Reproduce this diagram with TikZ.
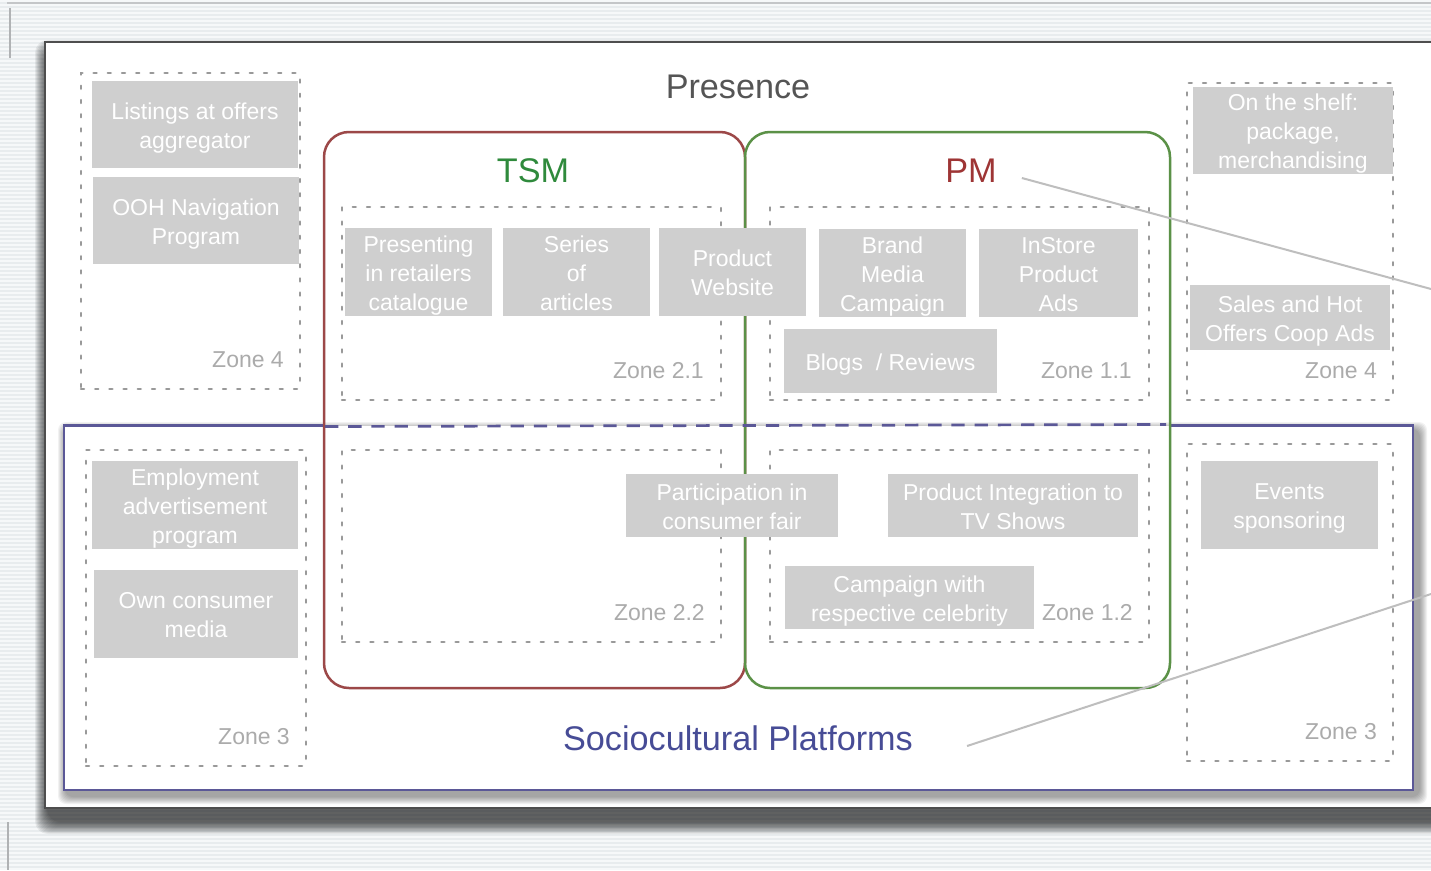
\documentclass[tikz,border=0pt]{standalone}
\usepackage{fontspec}
\setmainfont{Liberation Sans}
\definecolor{bgbase}{HTML}{E8ECEE}
\definecolor{bgstripe}{HTML}{F6F8F9}
\definecolor{edgegrey}{HTML}{C4C6C8}
\definecolor{framegrey}{HTML}{4E4E4E}
\definecolor{boxgrey}{HTML}{CFCFCF}
\definecolor{zonegrey}{HTML}{999999}
\definecolor{zonetxt}{HTML}{ABABAB}
\definecolor{tsmred}{HTML}{9C4848}
\definecolor{pmgreen}{HTML}{5B9147}
\definecolor{plum}{HTML}{5B5897}
\definecolor{titlegrey}{HTML}{555555}
\definecolor{tsmtxt}{HTML}{2F8A3C}
\definecolor{pmtxt}{HTML}{9E3535}
\definecolor{sctxt}{HTML}{474C96}
\definecolor{conngrey}{HTML}{BEBEBE}
\newcommand\gbox[6]{%
  \node[box, minimum width=#4pt, minimum height=#5pt] (#1) at (#2,#3) {};
  \node[boxtxt] (#1t) at ([yshift=-3.4pt]#1.center) {\strut#6\strut};}
\begin{document}
\begin{tikzpicture}[x=1pt,y=-1pt,
  box/.style={fill=boxgrey, inner sep=0pt, outer sep=0pt},
  boxtxt/.style={text=white, align=center, inner sep=0pt, outer sep=0pt,
    font=\fontsize{23}{29}\selectfont},
  zonebox/.style={draw=zonegrey, line width=2.5pt, line cap=round, dash pattern=on 3pt off 11.2pt,
    inner sep=0pt, outer sep=0pt},
  zonelbl/.style={text=zonetxt, anchor=east, inner sep=0pt, font=\fontsize{23}{27}\selectfont},
  title/.style={inner sep=0pt, font=\fontsize{34.2}{40}\selectfont},
  bigbox/.style={line width=2.5pt, rounded corners=25pt, inner sep=0pt, outer sep=0pt,
    minimum width=#1, minimum height=556pt},
  conn/.style={draw=conngrey, line width=2pt}]
\useasboundingbox (0,0) rectangle (1431,870);
% background
\fill[bgbase] (0,0) rectangle (1431,870);
\foreach \yy in {0,4,...,868} \fill[bgstripe] (0,\yy) rectangle (1431,\yy+2);
\draw[edgegrey, line width=1.5pt] (7,3) -- (1431,3);
\draw[edgegrey!90!black, line width=2pt] (10,8) -- (10,58);
\draw[edgegrey!90!black, line width=2pt] (8,822) -- (8,870);
% frame shadow
\foreach \i in {0,...,12} \fill[black, opacity=0.065, rounded corners=13pt] (35+\i,40+\i) rectangle (1462-\i,834-\i);
\draw[framegrey, line width=2pt, fill=white] (45,42) rectangle (1450,808);
% purple rectangle shadow
\foreach \i in {0,...,7} \fill[black, opacity=0.05, rounded corners=8pt] (58+\i,422+\i) rectangle (1427-\i,804-\i);
\fill[white] (64,425.5) rectangle (1413,790);
\draw[plum, line width=2.2pt] (325,425.5) -- (64,425.5) -- (64,790) -- (1413,790) -- (1413,425.5) -- (1170,425.5);
% zones
\node[zonebox, minimum width=219pt, minimum height=316pt] (z4l) at (190.5,231) {};
\node[zonebox, minimum width=379pt, minimum height=193pt] (z21) at (531.5,303.5) {};
\node[zonebox, minimum width=379pt, minimum height=193pt] (z11) at (959.5,303.5) {};
\node[zonebox, minimum width=206pt, minimum height=317pt] (z4r) at (1290,241.5) {};
\node[zonebox, minimum width=220pt, minimum height=316pt] (z3l) at (196,608) {};
\node[zonebox, minimum width=379pt, minimum height=192pt] (z22) at (531.5,546) {};
\node[zonebox, minimum width=379pt, minimum height=192pt] (z12) at (959.5,546) {};
\node[zonebox, minimum width=206pt, minimum height=317pt] (z3r) at (1290,602.5) {};
% TSM / PM frames
\node[bigbox=421pt, draw=tsmred] (tsmbox) at (534.5,410) {};
\node[bigbox=425pt, draw=pmgreen] (pmbox) at (957.5,410) {};
\draw[plum, line width=2.7pt, dash pattern=on 13.3pt off 9.9pt] (325,426.5) -- (1166,424.5);
% titles
\node[title, text=titlegrey] (presence) at (738,87) {Presence};
\node[title, text=tsmtxt] (tsm) at (533,171) {TSM};
\node[title, text=pmtxt] (pm) at (971,171) {PM};
\node[title, text=sctxt] (sc) at (738,738) {Sociocultural Platforms};
% grey boxes
\gbox{lst}{195}{124.5}{206}{87}{Listings at offers\\aggregator}
\gbox{ooh}{196}{220.5}{206}{87}{OOH Navigation\\Program}
\gbox{pres}{418.5}{272}{147}{88}{Presenting\\in retailers\\catalogue}
\gbox{ser}{576.5}{272}{147}{88}{Series\\of\\articles}
\gbox{web}{732.5}{272}{147}{88}{Product\\Website}
\gbox{brand}{892.5}{273}{147}{88}{Brand\\Media\\Campaign}
\gbox{inst}{1058.5}{273}{159}{88}{InStore\\Product\\Ads}
\gbox{blogs}{890.5}{361}{213}{64}{Blogs\ \ / Reviews}
\gbox{shelf}{1293}{130.5}{200}{87}{On the shelf:\\package,\\merchandising}
\gbox{sales}{1290}{317.5}{200}{65}{Sales and Hot\\Offers Coop Ads}
\gbox{emp}{195}{505}{206}{88}{Employment\\advertisement\\program}
\gbox{own}{196}{614}{204}{88}{Own consumer\\media}
\gbox{part}{732}{505.5}{212}{63}{Participation in\\consumer fair}
\gbox{prodint}{1013}{505.5}{250}{63}{Product Integration to\\TV Shows}
\gbox{camp}{909.5}{597.5}{249}{63}{Campaign with\\respective celebrity}
\gbox{events}{1289.5}{505}{177}{88}{Events\\sponsoring}
% zone labels
\node[zonelbl] (l4l) at (284,360) {Zone 4};
\node[zonelbl] (l21) at (704,371) {Zone 2.1};
\node[zonelbl] (l11) at (1132,371) {Zone 1.1};
\node[zonelbl] (l4r) at (1377,371) {Zone 4};
\node[zonelbl] (l3l) at (290,737) {Zone 3};
\node[zonelbl] (l22) at (705,613) {Zone 2.2};
\node[zonelbl] (l12) at (1133,613) {Zone 1.2};
\node[zonelbl] (l3r) at (1377,732) {Zone 3};
% connectors
\coordinate (pmend) at (1431,289);
\coordinate (scend) at (1431,594);
\draw[conn] ([xshift=25pt,yshift=-7pt]pm.east) -- (pmend);
\draw[conn] ([xshift=54pt,yshift=-8pt]sc.east) -- (scend);
\end{tikzpicture}
\end{document}
